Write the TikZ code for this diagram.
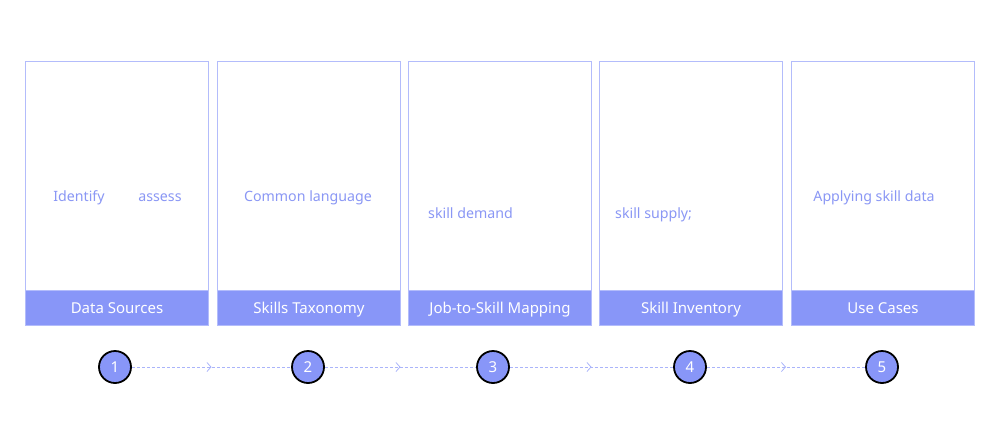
\documentclass[tikz,border=0pt]{standalone}
\usepackage{fontspec}
\setmainfont{Noto Sans}
\usetikzlibrary{arrows.meta,decorations.markings}
\definecolor{edgecol}{HTML}{B3BCFB}
\definecolor{barcol}{HTML}{8896F8}
\definecolor{txtcol}{HTML}{8A97F5}
\definecolor{linkcol}{HTML}{AAB4FA}
\tikzset{
  card/.style={draw=edgecol, line width=1pt, fill=white, minimum width=183pt, minimum height=264pt, anchor=north west, inner sep=0pt},
  bartag/.style={fill=barcol, draw=edgecol, line width=1pt, minimum width=183pt, minimum height=35pt, anchor=south west, inner sep=0pt, text=white, font=\fontsize{15}{18}\selectfont, text height=13pt, text depth=2pt},
  body/.style={text=txtcol, font=\fontsize{14.2}{17}\selectfont, inner sep=0pt, text height=10.5pt, text depth=3.5pt},
  num/.style={circle, draw=black, line width=1.8pt, fill=barcol, minimum size=32pt, inner sep=0pt, text=white, font=\fontsize{15}{18}\selectfont},
  link/.style={draw=linkcol, dash pattern=on 3pt off 2pt, line width=0.8pt,
    postaction={decorate, decoration={markings, mark=at position 0.5 with {\arrow[linkcol, line width=0.8pt, solid]{Straight Barb[length=4pt, width=9pt]}}}}}
}
\begin{document}
\begin{tikzpicture}[x=1pt,y=-1pt]
\useasboundingbox (0,0) rectangle (1000,445);
% cards
\node[card] (c1) at (25,61) {};
\node[card] (c2) at (217,61) {};
\node[card] (c3) at (408,61) {};
\node[card] (c4) at (599,61) {};
\node[card] (c5) at (791,61) {};
\node[bartag] (b1) at (c1.south west) {Data Sources};
\node[bartag] (b2) at (c2.south west) {Skills Taxonomy};
\node[bartag] (b3) at (c3.south west) {Job-to-Skill Mapping};
\node[bartag] (b4) at (c4.south west) {Skill Inventory};
\node[bartag] (b5) at (c5.south west) {Use Cases};
% body texts
\node[body] (t1a) at (79,198) {Identify};
\node[body] (t1b) at (160,198) {assess};
\node[body] (t2) at (308,198) {Common language};
\node[body, anchor=west] (t3) at (428,215) {skill demand};
\node[body, anchor=west] (t4) at (615,215) {skill supply;};
\node[body] (t5) at (874,198) {Applying skill data};
% numbered circles
\node[num] (n1) at (115,367) {1};
\node[num] (n2) at (308,367) {2};
\node[num] (n3) at (493,367) {3};
\node[num] (n4) at (690,367) {4};
\node[num] (n5) at (882,367) {5};
\path[link] (n1) -- (n2);
\path[link] (n2) -- (n3);
\path[link] (n3) -- (n4);
\path[link] (n4) -- (n5);
\end{tikzpicture}
\end{document}
